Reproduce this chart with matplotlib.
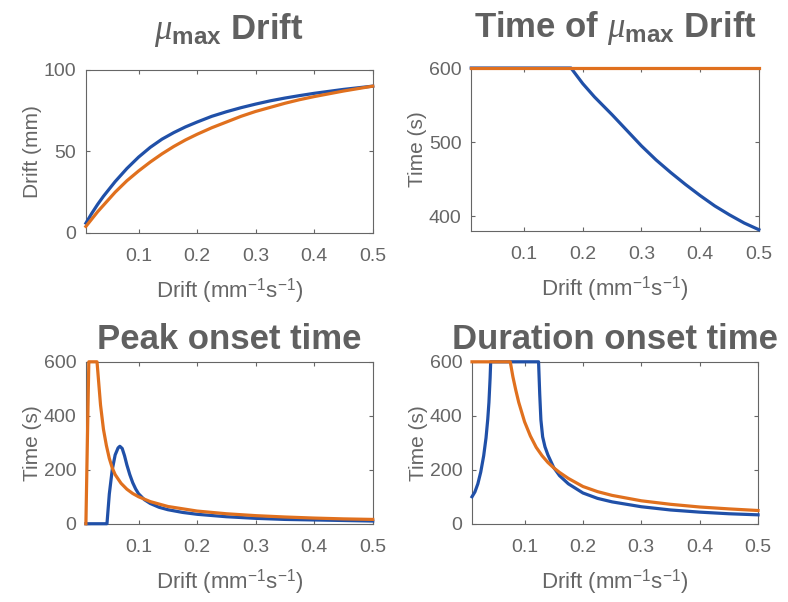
import matplotlib
matplotlib.use("Agg")
import matplotlib.pyplot as plt

plt.rcParams['font.family'] = ['Liberation Sans', 'DejaVu Sans']
plt.rcParams['mathtext.fontset'] = 'custom'
plt.rcParams['mathtext.rm'] = 'Liberation Sans'
plt.rcParams['mathtext.it'] = 'Liberation Serif:italic'
plt.rcParams['mathtext.bf'] = 'Liberation Sans:bold'

BLUE = '#2050A8'
ORANGE = '#E0701E'
GRAY = '#666666'

# --- mu_max drift
x_tl = [0.01, 0.02, 0.03, 0.04, 0.05, 0.06, 0.07, 0.08, 0.09, 0.1, 0.12, 0.14, 0.16, 0.18,
        0.2, 0.225, 0.25, 0.275, 0.3, 0.325, 0.35, 0.375, 0.4, 0.425, 0.45, 0.475, 0.5]
tl_blue = [6, 12, 17.5, 22.5, 27, 31.5, 35.5, 39.5, 43, 46.5, 52.5, 57.5, 61.5, 65,
           68, 71.5, 74.3, 76.8, 79, 81, 82.7, 84.2, 85.6, 86.8, 88, 89, 90]
tl_orange = [4, 8.5, 13, 17, 21, 25, 28.5, 32, 35, 38, 43.5, 48.5, 53, 57,
             60.5, 64.5, 68, 71.5, 74.5, 77, 79.5, 81.7, 83.6, 85.3, 87, 88.5, 90]

# --- time of mu_max drift
x_tr_blue = [0.01, 0.18, 0.2, 0.22, 0.25, 0.275, 0.3, 0.325, 0.35, 0.375, 0.4, 0.425,
             0.45, 0.475, 0.5]
tr_blue = [600, 600, 579, 561, 537, 516, 495, 476, 459, 443, 428, 414, 402, 391, 382]
x_tr_orange = [0.01, 0.5]
tr_orange = [600, 600]

# --- peak onset time
x_bl_blue = [0.01, 0.046, 0.05, 0.055, 0.06, 0.065, 0.068, 0.072, 0.076, 0.08, 0.085, 0.09,
             0.095, 0.1, 0.11, 0.12, 0.135, 0.15, 0.175, 0.2, 0.25, 0.3, 0.35, 0.4, 0.45, 0.5]
bl_blue = [0, 0, 110, 200, 255, 281, 287, 279, 252, 218, 182, 152,
           129, 111, 89, 75, 61, 52, 42, 35, 26, 20, 16, 14, 12, 10]
x_bl_orange = [0.01, 0.015, 0.029, 0.032, 0.035, 0.04, 0.045, 0.05, 0.055, 0.06, 0.07, 0.08,
               0.09, 0.1, 0.12, 0.15, 0.2, 0.25, 0.3, 0.35, 0.4, 0.45, 0.5]
bl_orange = [0, 600, 600, 520, 440, 350, 290, 242, 207, 182, 150, 128,
             112, 100, 82, 64, 47, 37, 30, 25, 21, 18, 16]

# --- duration onset time
x_br_blue = [0.01, 0.015, 0.02, 0.025, 0.03, 0.034, 0.037, 0.039, 0.041, 0.042, 0.124, 0.126,
             0.128, 0.131, 0.135, 0.14, 0.15, 0.16, 0.175, 0.2, 0.225, 0.25, 0.3, 0.35, 0.4,
             0.45, 0.5]
br_blue = [100, 118, 148, 192, 252, 318, 388, 450, 540, 600, 600, 480,
           385, 322, 285, 255, 208, 178, 148, 114, 94, 81, 63, 51, 43, 37, 33]
x_br_orange = [0.01, 0.0755, 0.08, 0.085, 0.09, 0.1, 0.11, 0.12, 0.13, 0.14, 0.15, 0.16,
               0.175, 0.2, 0.225, 0.25, 0.3, 0.35, 0.4, 0.45, 0.5]
br_orange = [600, 600, 545, 495, 450, 378, 325, 283, 252, 227, 207, 190,
             168, 138, 119, 105, 85, 72, 62, 55, 49]

fig = plt.figure(figsize=(7.88, 6.02), dpi=100)

axes_pos = [[0.109, 0.613, 0.364, 0.271], [0.598, 0.616, 0.365, 0.271],
            [0.109, 0.130, 0.364, 0.269], [0.599, 0.130, 0.363, 0.269]]
titles = [r'$\mathit{\mu}_{\mathbf{max}}$ Drift', r'Time of $\mathit{\mu}_{\mathbf{max}}$ Drift',
          'Peak onset time', 'Duration onset time']
title_pads = [22, 22, 9, 9]
ylabels = ['Drift (mm)', 'Time (s)', 'Time (s)', 'Time (s)']
series = [
    [(x_tl, tl_blue, BLUE), (x_tl, tl_orange, ORANGE)],
    [(x_tr_blue, tr_blue, BLUE), (x_tr_orange, tr_orange, ORANGE)],
    [(x_bl_blue, bl_blue, BLUE), (x_bl_orange, bl_orange, ORANGE)],
    [(x_br_blue, br_blue, BLUE), (x_br_orange, br_orange, ORANGE)],
]
ylims = [(0, 100), (380, 600), (0, 600), (0, 600)]
yticks = [[0, 50, 100], [400, 500, 600], [0, 200, 400, 600], [0, 200, 400, 600]]

for i in range(4):
    ax = fig.add_axes(axes_pos[i])
    for xs, ys, c in series[i]:
        ax.plot(xs, ys, color=c, lw=2.3, clip_on=False, zorder=3,
                solid_joinstyle='round')
    ax.set_xlim(0.01, 0.5)
    ax.set_ylim(*ylims[i])
    ax.set_xticks([0.1, 0.2, 0.3, 0.4, 0.5])
    ax.set_xticklabels(['0.1', '0.2', '0.3', '0.4', '0.5'])
    ax.set_yticks(yticks[i])
    ax.tick_params(direction='in', colors=GRAY, labelsize=14, length=3,
                   top=True, right=True)
    ax.tick_params(axis='x', pad=11)
    ax.tick_params(axis='y', pad=7)
    for s in ax.spines.values():
        s.set_color(GRAY)
        s.set_linewidth(0.8)
    ax.set_xlabel(r'Drift (mm$^{-1}$s$^{-1}$)', color=GRAY, fontsize=16, labelpad=8)
    ax.set_ylabel(ylabels[i], color=GRAY, fontsize=15, labelpad=1)
    ax.set_title(titles[i], color='#606060', fontsize=25, fontweight='bold',
                 pad=title_pads[i])

fig.savefig('out.png', dpi=100)
